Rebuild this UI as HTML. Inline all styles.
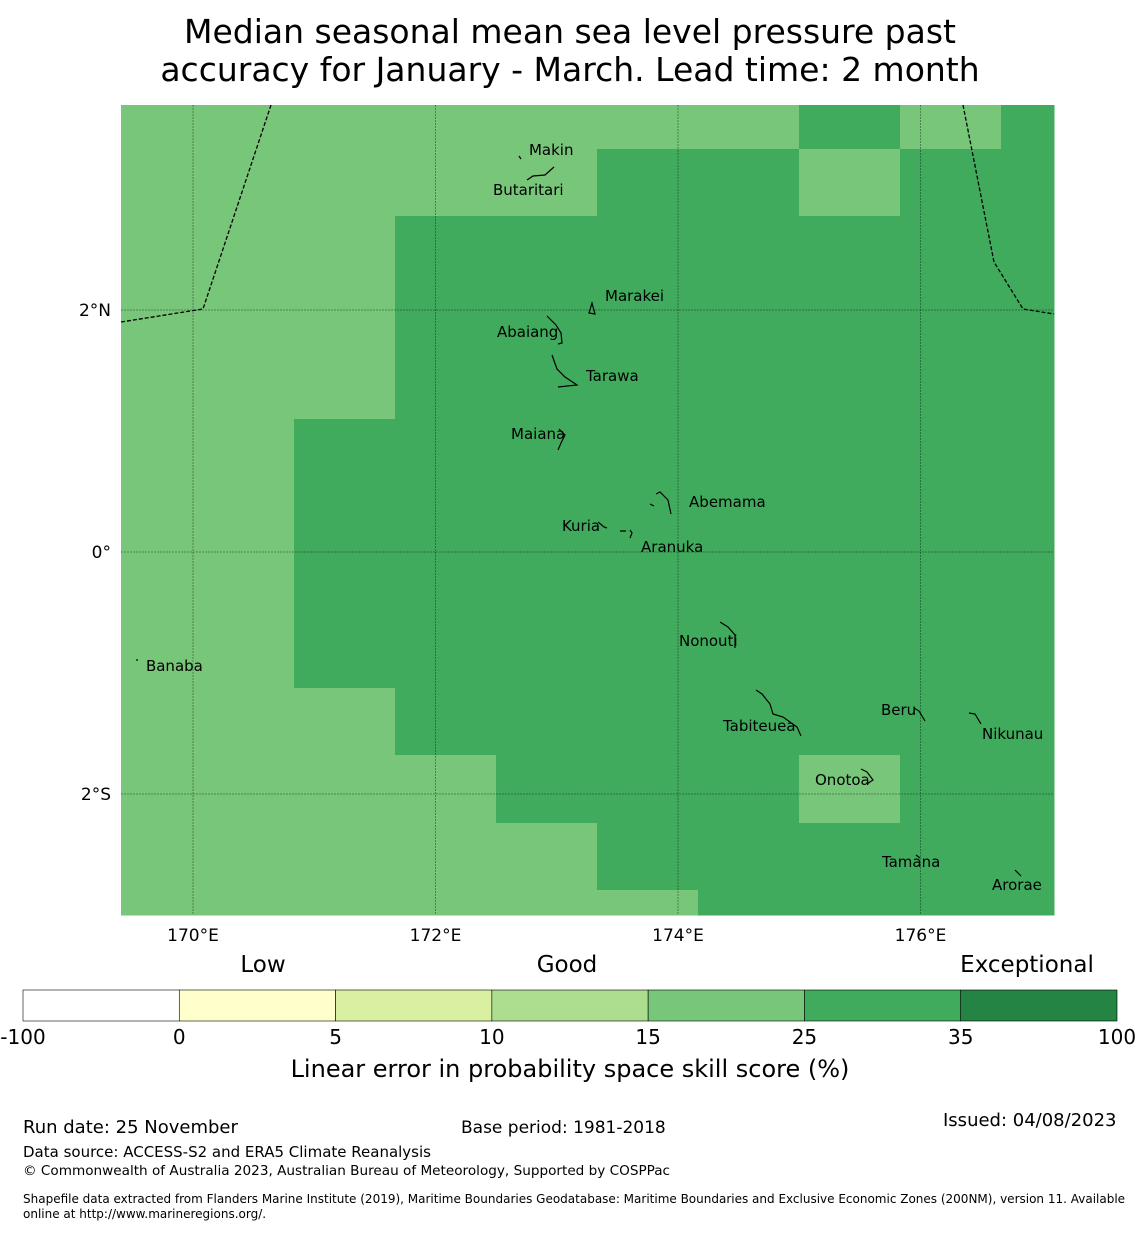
<!DOCTYPE html>
<html><head><meta charset="utf-8">
<style>
body{margin:0;background:#fff;width:1140px;height:1230px;overflow:hidden;font-family:"Liberation Sans","DejaVu Sans",sans-serif;}
svg text{font-family:"DejaVu Sans","Liberation Sans",sans-serif;}
</style></head><body>
<svg id="chart" width="1140" height="1230" xmlns="http://www.w3.org/2000/svg">
<text x="570" y="43" font-size="33" text-anchor="middle">Median seasonal mean sea level pressure past</text>
<text x="570" y="81" font-size="33" text-anchor="middle">accuracy for January - March. Lead time: 2 month</text>
<g id="map"></g>
<g id="cbar"></g>
<text x="263" y="972" font-size="23" text-anchor="middle">Low</text>
<text x="567" y="972" font-size="23" text-anchor="middle">Good</text>
<text x="1027" y="972" font-size="23" text-anchor="middle">Exceptional</text>
<text x="570" y="1077" font-size="24" text-anchor="middle">Linear error in probability space skill score (%)</text>
<text x="23" y="1133" font-size="18">Run date: 25 November</text>
<text x="461" y="1133" font-size="17">Base period: 1981-2018</text>
<text x="943" y="1126" font-size="18">Issued: 04/08/2023</text>
<text x="23" y="1157" font-size="15">Data source: ACCESS-S2 and ERA5 Climate Reanalysis</text>
<text x="23" y="1175" font-size="13.6">© Commonwealth of Australia 2023, Australian Bureau of Meteorology, Supported by COSPPac</text>
<text x="23" y="1203" font-size="12">Shapefile data extracted from Flanders Marine Institute (2019), Maritime Boundaries Geodatabase: Maritime Boundaries and Exclusive Economic Zones (200NM), version 11. Available</text>
<text x="23" y="1218" font-size="12">online at http://www.marineregions.org/.</text>
</svg>
<script>
// grid of skill categories (L = 15-25 light, D = 25-35 dark)
const colEdges=[121,193,294,395,496,597,698,799,900,1001,1054];
const rowEdges=[105,149,216,283,350,419,486,553,620,688,755,823,890,915];
const gridRows=[
"LLLLLLLDLD",
"LLLLLDDLDD",
"LLLDDDDDDD",
"LLLDDDDDDD",
"LLLDDDDDDD",
"LLDDDDDDDD",
"LLDDDDDDDD",
"LLDDDDDDDD",
"LLDDDDDDDD",
"LLLDDDDDDD",
"LLLLDDDLDD",
"LLLLLDDDDD",
"LLLLLLDDDD"];
const catColors={L:"#78c679",D:"#41ab5d"};
const lonTicks=[170,172,174,176];
const latTicks=[2,0,-2];
const latLabels=["2°N","0°","2°S"];
const islandNames=["Makin","Butaritari","Marakei","Abaiang","Tarawa","Maiana","Abemama","Kuria","Aranuka","Banaba","Nonouti","Tabiteuea","Beru","Nikunau","Onotoa","Tamana","Arorae"];
const islandLon=[172.771,172.474,173.398,172.507,173.241,172.623,174.091,173.043,173.695,169.612,174.008,174.371,175.674,176.507,175.130,175.682,176.590];
const islandLat=[3.322,2.992,2.116,1.818,1.455,0.975,0.413,0.215,0.041,-0.942,-0.736,-1.438,-1.306,-1.504,-1.884,-2.562,-2.752];
const cbBounds=["-100","0","5","10","15","25","35","100"];
const cbColors=["#ffffff","#ffffcc","#d9f0a3","#addd8e","#78c679","#41ab5d","#238443"];
const NS="http://www.w3.org/2000/svg";
const x0=121,x1=1054,y0=105,y1=915;
function xLon(l){return 193+(l-170)*121.25;}
function yLat(l){return 552-l*121.0;}
function mk(tag,at,p){const e=document.createElementNS(NS,tag);for(const k in at)e.setAttribute(k,at[k]);p.appendChild(e);return e;}
const map=document.getElementById('map');
gridRows.forEach((row,r)=>{for(let c=0;c<row.length;c++){
 const e=mk('rect',{x:colEdges[c],y:rowEdges[r],width:colEdges[c+1]-colEdges[c]+0.5,height:rowEdges[r+1]-rowEdges[r]+0.5,fill:catColors[row[c]]},map);
 
 
}});
lonTicks.forEach(l=>{const x=xLon(l);
 const g=mk('line',{x1:x,x2:x,y1:y0,y2:y1,stroke:'#000','stroke-opacity':0.35,'stroke-width':1,'stroke-dasharray':'2,1'},map);
 
 
 const t=mk('text',{x:x,y:941,'font-size':17,'text-anchor':'middle'},map);t.textContent=l+'°E';
 
 
});
latTicks.forEach((l,i)=>{const y=yLat(l);
 const g=mk('line',{x1:x0,x2:x1,y1:y,y2:y,stroke:'#000','stroke-opacity':0.35,'stroke-width':1,'stroke-dasharray':'2,1'},map);
 
 
 const t=mk('text',{x:111,y:y+6,'font-size':17,'text-anchor':'end'},map);t.textContent=latLabels[i];
 
 
});
const b1=mk('polyline',{points:'121,322 203,309 271,105',fill:'none',stroke:'#000','stroke-width':1.3,'stroke-dasharray':'4,2'},map);


const b2=mk('polyline',{points:'963,105 994,262 1023,309 1054,314',fill:'none',stroke:'#000','stroke-width':1.3,'stroke-dasharray':'4,2'},map);


const shapes=['M519,156 l2,3','M527,180 l6,-4 l12,-1 l9,-8','M589,313 l3,-10 l3,11 z','M547,316 l9,9 l5,8 l1,10 l-4,1','M552,355 l5,14 l8,8 l12,8 l-19,2','M559,429 l6,6 l-4,8 l-3,7','M650,504 l4,2 M656,494 l4,-2 l8,8 l3,14','M598,522 l6,5 l3,1 M620,531 l6,0 M630,530 l2,3 l-2,5','M136,660 l2,0','M720,622 l8,5 l7,8 l0,13','M756,690 l6,4 l8,10 l3,10 l10,3 l14,10 l4,9','M914,708 l5,3 l6,10','M969,713 l6,1 l6,10','M861,769 l6,3 l6,8 l-6,4','M916,855 l4,3','M1015,870 l6,6'];
shapes.forEach(d=>{const p=mk('path',{d:d,fill:'none',stroke:'#000','stroke-width':1.2},map);
 
 });
islandNames.forEach((n,i)=>{
 const t=mk('text',{x:xLon(islandLon[i]),y:yLat(islandLat[i])+5,'font-size':15,'text-anchor':'start'},map);t.textContent=n;
 
 
});
const cb=document.getElementById('cbar');
const cbx0=23,cbx1=1117,segW=(cbx1-cbx0)/cbColors.length;
cbColors.forEach((c,i)=>{const r=mk('rect',{x:cbx0+i*segW,y:990,width:segW,height:31,fill:c,stroke:'#000','stroke-width':0.6},cb);
 
 });
cbBounds.forEach((b,i)=>{const t=mk('text',{x:cbx0+i*segW,y:1044,'font-size':20,'text-anchor':'middle'},cb);t.textContent=b;
 
 });
</script>
</body></html>
